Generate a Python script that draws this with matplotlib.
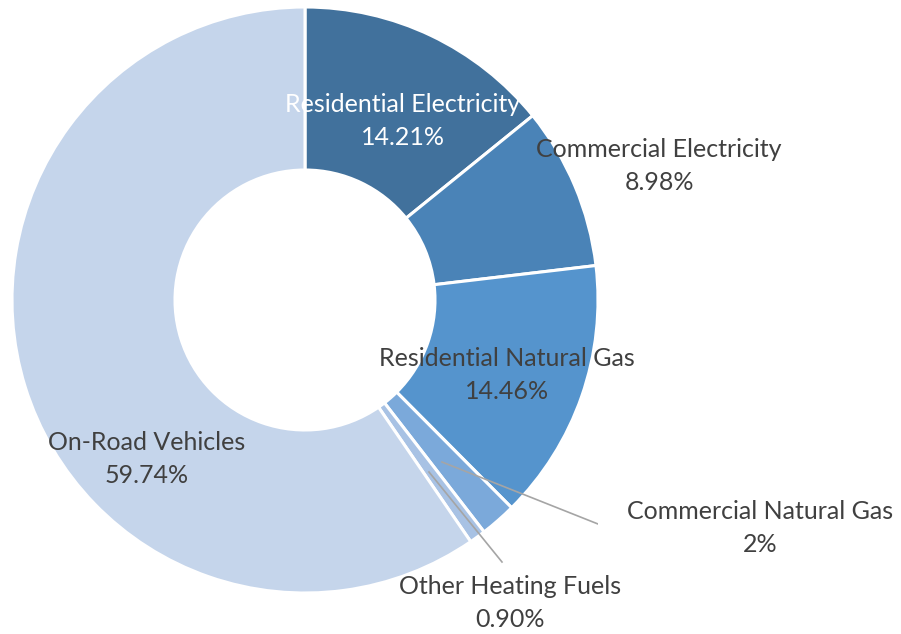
import numpy as np
import matplotlib.pyplot as plt

plt.rcParams['font.family'] = ['Lato', 'DejaVu Sans']

labels = ['Residential Electricity', 'Commercial Electricity', 'Residential Natural Gas',
          'Commercial Natural Gas', 'Other Heating Fuels', 'On-Road Vehicles']
values = [14.21, 8.98, 14.46, 2.0, 0.90, 59.74]
pct_text = ['14.21%', '8.98%', '14.46%', '2%', '0.90%', '59.74%']
colors = ['#41719C', '#4A83B7', '#5594CD', '#7BA9DA', '#A8C2E4', '#C5D5EB']

W, H = 901, 634
cx, cy, R = 305, 300, 293

fig = plt.figure(figsize=(W / 100, H / 100), dpi=100)
ax = fig.add_axes([(cx - R) / W, (H - cy - R) / H, 2 * R / W, 2 * R / H])
ax.pie(values, colors=colors, startangle=90, counterclock=False, radius=1,
       wedgeprops=dict(width=1 - 130 / 293, edgecolor='white', linewidth=2.2))
ax.set_xlim(-1, 1)
ax.set_ylim(-1, 1)
ax.set_aspect('equal')
ax.axis('off')


def d(px, py):
    return (px - cx) / R, (cy - py) / R


# label anchor positions in pixels (center of two-line label)
pos = [(403, 121), (659, 166), (507, 375), (760, 528), (510, 603), (147, 459)]
txt_colors = ['white', '#404040', '#404040', '#404040', '#404040', '#404040']
for lab, p, (px, py), c in zip(labels, pct_text, pos, txt_colors):
    x, y = d(px, py)
    ax.text(x, y, lab + '\n' + p, ha='center', va='center', fontsize=18,
            color=c, linespacing=1.55)

# leader lines
ln = dict(color='#A5A5A5', linewidth=1.2)
x0, y0 = d(442, 462)
x1, y1 = d(598, 524)
x2, y2 = d(610, 524)
ax.plot([x0, x1, x2], [y0, y1, y2], **ln)
x0, y0 = d(429, 472)
x1, y1 = d(502, 562)
ax.plot([x0, x1], [y0, y1], **ln)

fig.savefig('out.png', dpi=100)
